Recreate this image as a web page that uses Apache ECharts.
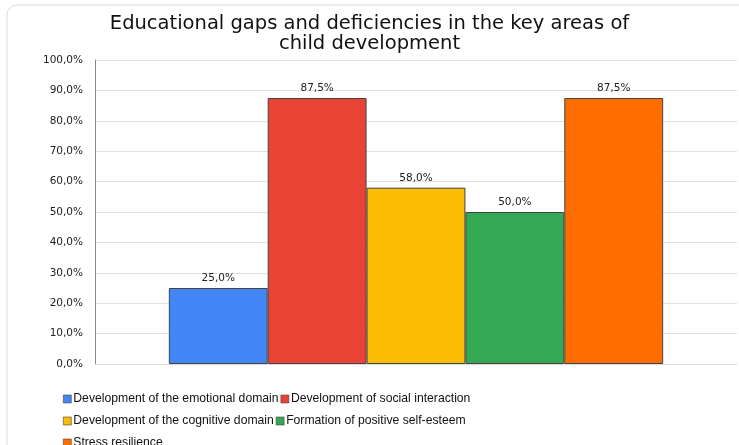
<!DOCTYPE html>
<html><head><meta charset="utf-8">
<script src="https://cdn.jsdelivr.net/npm/echarts@6/dist/echarts.min.js"></script>
<style>html,body{margin:0;padding:0;background:#fff}#c{width:739px;height:445px}</style>
</head><body><div id="c"></div>
<script>
const seriesNames = ["Development of the emotional domain","Development of social interaction","Development of the cognitive domain","Formation of positive self-esteem","Stress resilience"];
const seriesValues = [25.0, 87.5, 58.0, 50.0, 87.5];
const colors = ["#4285F4","#EA4335","#FBBC04","#34A853","#FF6D01"];
const yTicks = [0,10,20,30,40,50,60,70,80,90,100];
const fmt = v => v.toFixed(1).replace('.', ',') + '%';
const FONT = '"DejaVu Sans", sans-serif';
const LFONT = '"Liberation Sans", sans-serif';
const chart = echarts.init(document.getElementById('c'));
chart.setOption({
  animation:false,
  graphic:[{type:'rect',shape:{x:7,y:5,width:745,height:460,r:10},style:{fill:'none',stroke:'#d9d9d9',lineWidth:1}}],
  title:{text:'Educational gaps and deficiencies in the key areas of\nchild development',left:'center',top:9,
    textStyle:{fontFamily:FONT,fontWeight:'normal',fontSize:19.5,color:'#111',lineHeight:20}},
  grid:{left:95,right:2,top:60,bottom:81},
  legend:{left:58,top:384,width:445,itemWidth:8,itemHeight:8,itemGap:2,
    textStyle:{fontFamily:LFONT,fontSize:12.2,color:'#111',lineHeight:20,padding:[0,0,0,-3]},
    data:seriesNames.map((n,i)=>({name:n,icon:'rect',itemStyle:{borderColor:'#444',borderWidth:0.6}}))},
  xAxis:{type:'category',data:[''],axisLine:{show:true,lineStyle:{color:'#d9d9d9'}},axisTick:{show:false},axisLabel:{show:false}},
  yAxis:{type:'value',min:0,max:100,interval:10,
    axisLine:{show:true,lineStyle:{color:'#888'}},
    splitLine:{lineStyle:{color:'#e0e0e0'}},
    axisLabel:{formatter:v=>fmt(v),fontFamily:FONT,fontSize:10.5,color:'#222',margin:12}},
  series:seriesNames.map((n,i)=>({
    name:n,type:'bar',data:[seriesValues[i]],barGap:'0%',barCategoryGap:'23%',
    itemStyle:{color:colors[i],borderColor:'#444',borderWidth:1},
    label:{show:true,position:'top',formatter:p=>fmt(p.value),fontFamily:FONT,fontSize:10.5,color:'#222',distance:4}
  }))
});
</script></body></html>
